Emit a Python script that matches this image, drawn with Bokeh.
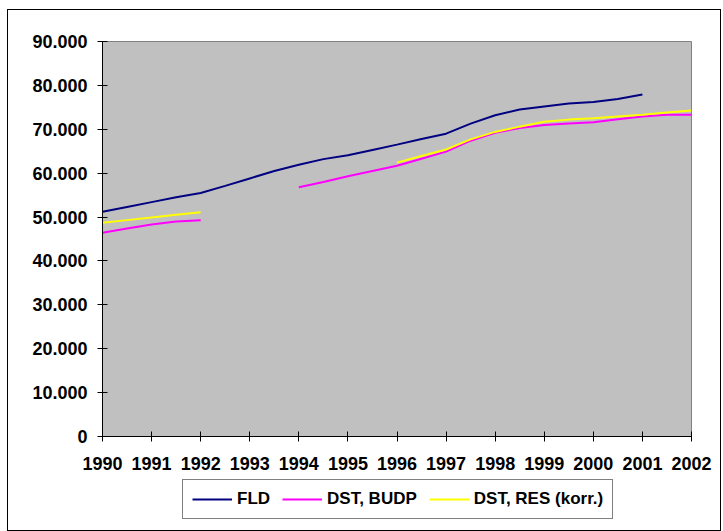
from bokeh.plotting import figure
from bokeh.layouts import column
from bokeh.models import FixedTicker, Legend, LegendItem, Range1d
from bokeh.embed import file_html
from bokeh.resources import INLINE

NaN = float("nan")

# x positions (half-years)
periods = [1990.0, 1990.5, 1991.0, 1991.5, 1992.0, 1992.5, 1993.0, 1993.5,
           1994.0, 1994.5, 1995.0, 1995.5, 1996.0, 1996.5, 1997.0, 1997.5,
           1998.0, 1998.5, 1999.0, 1999.5, 2000.0, 2000.5, 2001.0, 2001.5, 2002.0]

fld = [51200, 52300, 53400, 54500, 55500, 57100, 58800, 60500,
       61900, 63200, 64100, 65300, 66500, 67800, 69000, 71300,
       73200, 74500, 75200, 75900, 76200, 76900, 77900, NaN, NaN]

dst_budp = [46400, 47400, 48300, 49000, 49300, NaN, NaN, NaN,
            56800, 58000, 59300, 60500, 61700, 63300, 64900, 67400,
            69200, 70300, 71000, 71300, 71600, 72300, 72900, 73300, 73300]

dst_res = [48700, 49300, 49900, 50500, 51100, NaN, NaN, NaN,
           NaN, NaN, NaN, NaN, 62400, 63900, 65400, 67700,
           69400, 70600, 71700, 72200, 72500, 72900, 73300, 73800, 74300]

series_names = ["FLD", "DST, BUDP", "DST, RES (korr.)"]
series_colors = ["#000080", "#FF00FF", "#FFFF00"]

x_ticks = [1990, 1991, 1992, 1993, 1994, 1995, 1996, 1997, 1998, 1999, 2000, 2001, 2002]
x_labels = ["1990", "1991", "1992", "1993", "1994", "1995", "1996", "1997",
            "1998", "1999", "2000", "2001", "2002"]
y_ticks = [0, 10000, 20000, 30000, 40000, 50000, 60000, 70000, 80000, 90000]
y_labels = ["0", "10.000", "20.000", "30.000", "40.000", "50.000", "60.000",
            "70.000", "80.000", "90.000"]

FONT = "Liberation Sans"
all_series = [fld, dst_budp, dst_res]

# ---- main chart ----
p = figure(width=712, height=466, output_backend="svg", toolbar_location=None,
           x_range=Range1d(1990, 2002), y_range=Range1d(0, 90000),
           min_border_left=94, min_border_right=29, min_border_top=31,
           min_border_bottom=40)
p.background_fill_color = "#C0C0C0"
p.border_fill_color = "white"
p.outline_line_color = "#808080"
p.outline_line_width = 1
p.xgrid.visible = False
p.ygrid.visible = False

for vals, c in zip(all_series, series_colors):
    p.line(periods, vals, line_color=c, line_width=2)

for ax in (p.xaxis[0], p.yaxis[0]):
    ax.axis_line_color = "black"
    ax.axis_line_width = 1
    ax.major_tick_line_color = "black"
    ax.major_tick_in = 5
    ax.major_tick_out = 5
    ax.minor_tick_line_color = None
    ax.major_label_text_font = FONT
    ax.major_label_text_font_style = "bold"
    ax.major_label_text_font_size = "18px"
    ax.major_label_text_color = "black"

p.xaxis[0].ticker = FixedTicker(ticks=x_ticks)
p.xaxis[0].major_label_overrides = {t: l for t, l in zip(x_ticks, x_labels)}
p.xaxis[0].major_label_standoff = 15
p.yaxis[0].ticker = FixedTicker(ticks=y_ticks)
p.yaxis[0].major_label_overrides = {t: l for t, l in zip(y_ticks, y_labels)}
p.yaxis[0].major_label_standoff = 10

# ---- legend strip (its lines lie outside its own view; only the legend shows) ----
q = figure(width=712, height=54, output_backend="svg", toolbar_location=None,
           x_range=Range1d(0, 1), y_range=Range1d(0, 1),
           x_axis_type=None, y_axis_type=None,
           min_border_left=0, min_border_right=0, min_border_top=0,
           min_border_bottom=0)
q.outline_line_color = None
q.background_fill_color = "white"
q.border_fill_color = "white"
q.xgrid.visible = False
q.ygrid.visible = False

leg_renderers = [q.line(periods, vals, line_color=c, line_width=2)
                 for vals, c in zip(all_series, series_colors)]

legend = Legend(
    items=[LegendItem(label=n, renderers=[r]) for n, r in zip(series_names, leg_renderers)],
    orientation="horizontal", location=(80, 11),
    border_line_color="black", border_line_width=1,
    background_fill_color="white", background_fill_alpha=1,
    label_text_font=FONT, label_text_font_style="bold", label_text_font_size="17px",
    label_text_color="black",
    glyph_width=40, glyph_height=18, label_height=18, label_standoff=5,
    padding=9, spacing=12, margin=0,
)
q.add_layout(legend, "center")

layout = column(p, q, spacing=0,
                styles={"border": "1.5px solid black", "margin-left": "7px",
                        "margin-top": "9px"})

open("out.html", "w").write(file_html(layout, INLINE))
